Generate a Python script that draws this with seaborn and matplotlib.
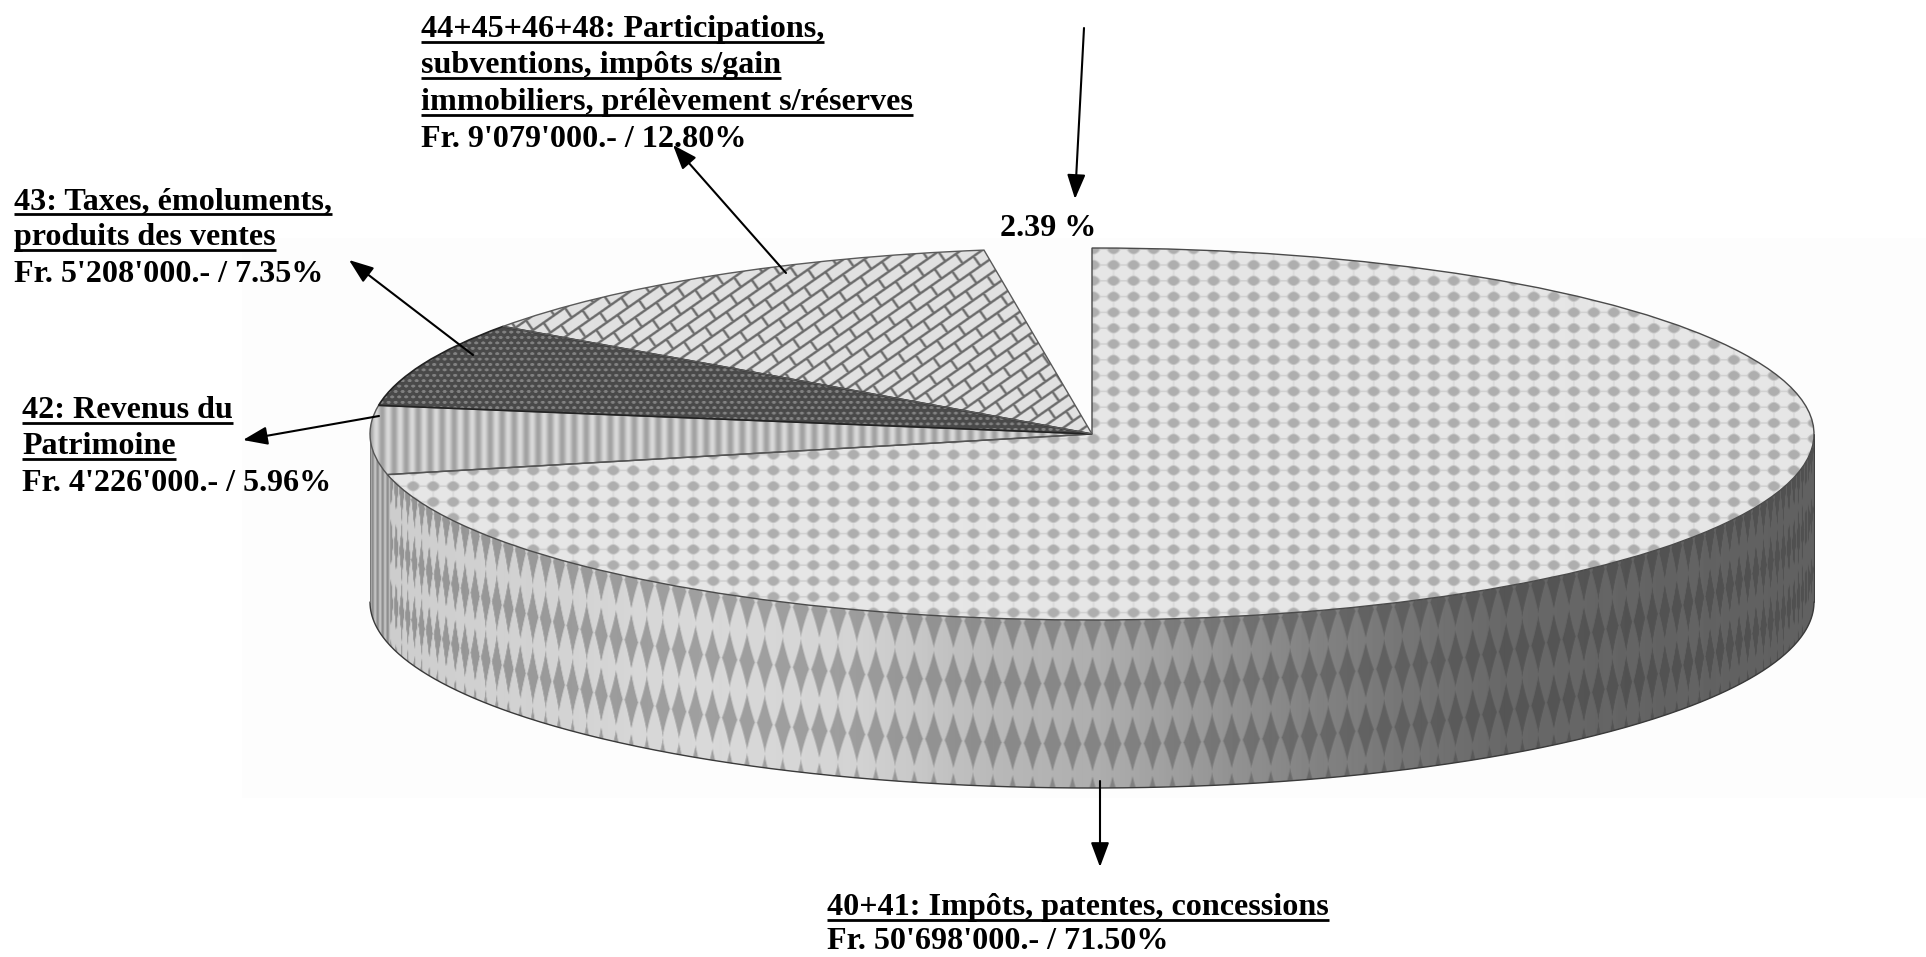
import numpy as np
import matplotlib
matplotlib.use("Agg")
import matplotlib.pyplot as plt
import matplotlib.patches as mpatches
import matplotlib.transforms as mtransforms
import seaborn as sns

# ---- data -------------------------------------------------------------
categories = ["40+41", "42", "43", "44+45+46+48", "autres"]
percent = [71.50, 5.96, 7.35, 12.80, 2.39]
base_colors = ["#e4e4e4", "#c8c8c8", "#4a4a4a", "#dcdcdc", "#ffffff"]

label_40 = ["40+41: Impôts, patentes, concessions"]
amount_40 = "Fr. 50'698'000.- / 71.50%"
label_42 = ["42: Revenus du", "Patrimoine"]
amount_42 = "Fr. 4'226'000.- / 5.96%"
label_43 = ["43: Taxes, émoluments,", "produits des ventes"]
amount_43 = "Fr. 5'208'000.- / 7.35%"
label_44 = ["44+45+46+48: Participations,", "subventions, impôts s/gain",
            "immobiliers, prélèvement s/réserves"]
amount_44 = "Fr. 9'079'000.- / 12.80%"
amount_other = "2.39 %"

# ---- layout (reference pixels) ------------------------------------------
W, H = 1926, 957
CX, CY, RX, RY, DEPTH = 1092, 434, 722, 186, 168

sns.set_theme(style="white")
plt.rcParams["font.family"] = ["Liberation Serif", "DejaVu Serif"]

fig = plt.figure(figsize=(W / 100, H / 100), dpi=100, facecolor="white")
ax = fig.add_axes([0, 0, 1, 1])
px = mtransforms.Affine2D().scale(1, -1).translate(0, H)

xlim = ((0 - CX) / RX, (W - CX) / RX)
ylim = ((CY - H) / RY, CY / RY)
extent = (xlim[0], xlim[1], ylim[0], ylim[1])
X, Y = np.meshgrid(np.arange(W) + 0.5, np.arange(H) + 0.5)


def soft(a, edge=0.25):
    return np.clip(a / edge, 0, 1)


def tex_dots():
    pw, ph = 20.0, 15.8
    dx = (X - 1113 + pw / 2) % pw - pw / 2
    dy = (Y - 265 + ph / 2) % ph - ph / 2
    r = (np.abs(dx) / 7.5) ** 1.6 + (np.abs(dy) / 6.0) ** 1.6
    blob = soft(1 - r, 0.5)
    lines = np.maximum(soft(1.3 - np.abs(dy), 1.0), 0.6 * soft(1.3 - np.abs(dx), 1.0))
    m = np.maximum(blob, 0.35 * lines)
    return 0.90 - 0.22 * m


def tex_stripes():
    return 0.74 + 0.11 * np.cos(2 * np.pi * (X - 400) / 12.0)


def tex_small():
    pw, ph = 7.0, 5.4
    row = np.floor(Y / ph)
    dx = (X + (row % 2) * pw / 2) % pw - pw / 2
    dy = Y % ph - ph / 2
    m = soft(1 - (dx / 2.4) ** 2 - (dy / 1.8) ** 2, 0.6)
    return 0.29 + 0.22 * m


def tex_bricks():
    a = np.deg2rad(35)
    u = X * np.cos(a) - Y * np.sin(a)
    v = X * np.sin(a) + Y * np.cos(a)
    h, L = 12.0, 26.0
    row = np.floor(v / h)
    dv = np.abs(v % h - h / 2)
    du = np.abs((u + (row % 2) * L / 2) % L - L / 2)
    line = np.maximum(soft(dv - (h / 2 - 1.7), 1.0), soft(du - (L / 2 - 1.7), 1.0))
    return 0.88 - 0.46 * line


def tex_wall():
    t = np.clip((X - CX) / RX, -1, 1)
    theta = np.arcsin(t)
    v = Y - (CY + RY * np.sqrt(1 - t ** 2))
    base = np.interp(X, [372, 700, 850, 1000, 1100, 1300, 1500, 1650, 1812],
                     [0.80, 0.85, 0.83, 0.72, 0.68, 0.52, 0.41, 0.39, 0.38])
    fac = np.interp(X, [372, 1000, 1500, 1812], [0.28, 0.25, 0.18, 0.17])
    pw = 20.0 / RX
    du = ((theta + pw / 2) % pw - pw / 2) * RX
    pv = 60.0
    dv = (v - 64 + pv / 2) % pv - pv / 2
    d = soft(1 - (np.abs(du) / 9.5) ** 0.9 - (np.abs(dv) / 30.0) ** 0.9, 0.12)
    img = base * (1 - fac * d)
    # slice 42's wall at the far left shows plain stripes
    edge = X < 390
    img[edge] = (0.66 + 0.12 * np.cos(2 * np.pi * X / 5.0))[edge]
    return img


def paint(tex, clip):
    im = ax.imshow(tex, extent=extent, origin="upper", cmap="gray", vmin=0, vmax=1,
                   aspect="auto", interpolation="bilinear", zorder=clip.get_zorder() + 0.1)
    im.set_clip_path(clip)
    return im


# faint scan background of the pasted picture
ax.add_patch(mpatches.Rectangle((242, 238), W - 242, 560, transform=px,
                                facecolor="#fdfdfd", edgecolor="none", zorder=0))

# side wall, from the lower half of the same unit circle as the pie
phi = np.linspace(np.pi, 2 * np.pi, 400)
d = DEPTH / RY
xs = np.cos(phi)
ys = np.sin(phi)
wall = ax.fill(np.r_[xs, xs[::-1]], np.r_[ys, ys[::-1] - d], facecolor="#999999",
               edgecolor="none", zorder=1)[0]
paint(tex_wall(), wall)
ax.plot(xs, ys - d, color="#3a3a3a", lw=1.0, zorder=2)
ax.plot([-1, -1], [0, -d], color="#777777", lw=0.7, zorder=2)
ax.plot([1, 1], [0, -d], color="#3a3a3a", lw=0.7, zorder=2)

# top face: the pie itself
wedges, _ = ax.pie(percent, colors=base_colors, startangle=90, counterclock=False,
                   radius=1, center=(0, 0), frame=False,
                   wedgeprops=dict(linewidth=0, zorder=3))
ax.set_aspect("auto")
textures = [tex_dots(), tex_stripes(), tex_small(), tex_bricks()]
for w, tex in zip(wedges, textures):
    paint(tex, w)
for w, col, lw in zip(wedges[:4], ["#4a4a4a", "#555555", "#222222", "#5a5a5a"], [1.0, 1.0, 1.2, 1.0]):
    ax.add_patch(mpatches.PathPatch(w.get_path(), transform=w.get_transform(),
                                    facecolor="none", edgecolor=col, lw=lw, zorder=4))
wedges[4].set_visible(False)
ax.axis("off")

# ---- arrows --------------------------------------------------------------
arrows = [((1084, 28), (1075, 199)), ((786, 273), (673, 145)), ((473, 355), (349, 260)),
          ((379, 416), (243, 440)), ((1100, 781), (1100, 867))]
for tail, head in arrows:
    ax.annotate("", xy=head, xytext=tail, xycoords=px, textcoords=px, zorder=6,
                arrowprops=dict(arrowstyle="-|>,head_length=0.75,head_width=0.28", color="black",
                                lw=1.5, shrinkA=0, shrinkB=0, mutation_scale=20))

# ---- texts ---------------------------------------------------------------
FS = 23.1
renderer = fig.canvas.get_renderer()


def block(x, baselines, underlined, plain):
    lines = list(underlined) + [plain]
    for i, (s, yb) in enumerate(zip(lines, baselines)):
        t = ax.text(x, yb, s, transform=px, fontsize=FS, fontweight="bold", color="black",
                    ha="left", va="baseline", zorder=7)
        if i < len(underlined):
            bb = t.get_window_extent(renderer)
            ax.plot([bb.x0, bb.x1], [yb + 5, yb + 5], transform=px, color="black",
                    lw=2.0, solid_capstyle="butt", zorder=7)


block(421, [37, 73, 110, 147], label_44, amount_44)
block(14, [209, 245, 282], label_43, amount_43)
block(22, [418, 454, 491], label_42, amount_42)
block(827, [915, 949], label_40, amount_40)
block(1000, [236], [], amount_other)

ax.set_xlim(*xlim)
ax.set_ylim(*ylim)
fig.savefig("out.png", dpi=100, facecolor="white")
